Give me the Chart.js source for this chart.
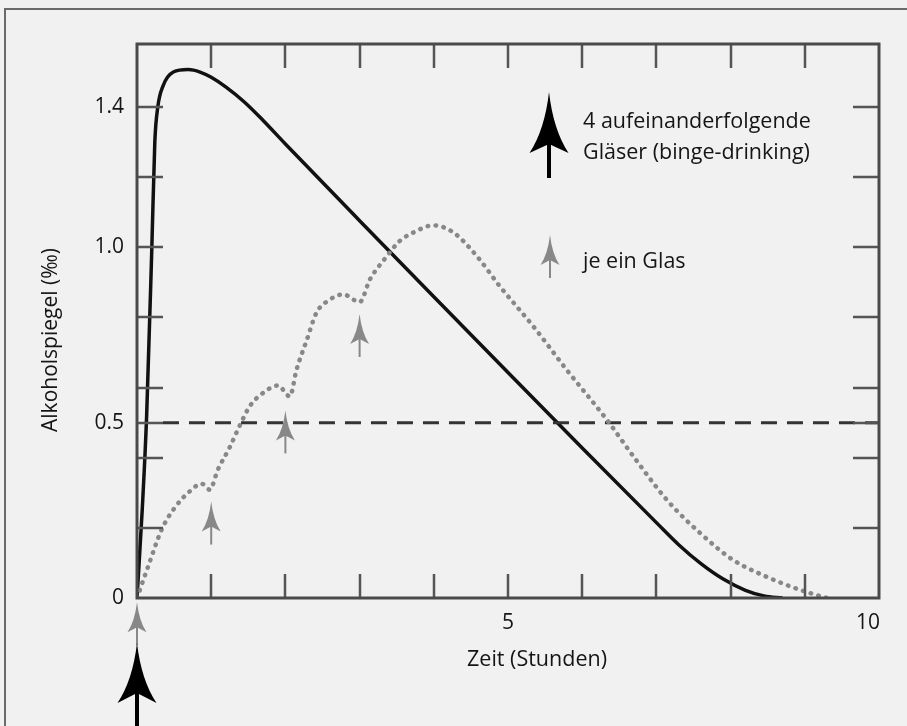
<!DOCTYPE html>
<html>
<head>
<meta charset="utf-8">
<script src="https://cdn.jsdelivr.net/npm/chart.js@4/dist/chart.umd.min.js"></script>
<style>
  html, body { margin: 0; padding: 0; background: #f1f1f1; }
  #wrap { width: 907px; height: 726px; }
</style>
</head>
<body>
<div id="wrap"><canvas id="chart" width="907" height="726"></canvas></div>
<script>
// Zeit in Stunden / Alkoholspiegel in Promille
const bingeTimes = [0, 0.07, 0.13, 0.2, 0.24, 0.28, 0.35, 0.49, 0.69, 0.85, 1.0, 1.2, 1.45, 1.7, 2, 3, 4, 5, 6, 7, 7.3, 7.6, 7.9, 8.2, 8.45, 8.7];
const bingeLevel = [0, 0.25, 0.52, 1.0, 1.3, 1.4, 1.46, 1.5, 1.507, 1.5, 1.485, 1.457, 1.414, 1.362, 1.295, 1.076, 0.859, 0.643, 0.428, 0.215, 0.152, 0.098, 0.054, 0.022, 0.006, 0];

const glassTimes = [0, 0.15, 0.33, 0.5, 0.71, 0.87, 0.98, 1.09, 1.25, 1.39, 1.52, 1.7, 1.9, 2.06, 2.15, 2.29, 2.42, 2.6, 2.78, 3.0, 3.14, 3.35, 3.54, 3.75, 3.99, 4.26, 4.58, 4.89, 5.34, 5.79, 6.33, 6.69, 7.14, 7.59, 8.03, 8.49, 8.94, 9.3];
const glassLevel = [0, 0.09, 0.194, 0.255, 0.304, 0.326, 0.309, 0.366, 0.43, 0.494, 0.547, 0.585, 0.606, 0.575, 0.651, 0.737, 0.814, 0.851, 0.866, 0.844, 0.909, 0.97, 1.018, 1.045, 1.063, 1.043, 0.975, 0.889, 0.775, 0.651, 0.509, 0.404, 0.28, 0.185, 0.109, 0.06, 0.023, 0];

const limitTimes = [0.35, 10];
const limitLevel = [0.5, 0.5];

// je ein Glas: Zeitpunkte und Pfeilspitzen (Promille)
const drinkTimes = [0, 1, 2, 3];
const drinkArrowTips = [-0.012, 0.275, 0.535, 0.81];

const xTickMarks = [1, 2, 3, 4, 5, 6, 7, 8, 9];
const yTickMarks = [0.2, 0.4, 0.5, 0.6, 0.8, 1.0, 1.2, 1.4];
const xLabelValues = [5, 10];
const xTickLabels = ['5', '10'];
const yLabelValues = [0, 0.5, 1.0, 1.4];
const yTickLabels = ['0', '0.5', '1.0', '1.4'];

const xTitle = 'Zeit (Stunden)';
const yTitle = 'Alkoholspiegel (‰)';
const legendBinge = ['4 aufeinanderfolgende', 'Gläser (binge-drinking)'];
const legendGlass = 'je ein Glas';

const FONT = '"Open Sans", "DejaVu Sans", sans-serif';
const TEXT = '#151515';
const GREY = '#888888';

const toPoints = (xs, ys) => xs.map((x, i) => ({ x: x, y: ys[i] }));

function arrow(ctx, x, yTip, len, half, notch, yTail, shaft, color) {
  ctx.save();
  ctx.fillStyle = color;
  ctx.strokeStyle = color;
  ctx.lineWidth = shaft;
  ctx.beginPath();
  ctx.moveTo(x, yTip + notch - 1);
  ctx.lineTo(x, yTail);
  ctx.stroke();
  ctx.beginPath();
  ctx.moveTo(x, yTip);
  ctx.quadraticCurveTo(x - half * 0.22, yTip + len * 0.62, x - half, yTip + len);
  ctx.lineTo(x, yTip + notch);
  ctx.lineTo(x + half, yTip + len);
  ctx.quadraticCurveTo(x + half * 0.22, yTip + len * 0.62, x, yTip);
  ctx.closePath();
  ctx.fill();
  ctx.restore();
}

const decor = {
  id: 'decor',
  beforeDraw(chart) {
    const ctx = chart.ctx;
    ctx.save();
    ctx.fillStyle = '#f1f1f1';
    ctx.fillRect(0, 0, chart.width, chart.height);
    ctx.strokeStyle = '#6a6a6a';
    ctx.lineWidth = 2;
    ctx.strokeRect(5, 9, chart.width + 20, chart.height + 20);
    ctx.restore();
  },
  afterDatasetsDraw(chart) {
    const ctx = chart.ctx;
    const a = chart.chartArea;
    const xs = chart.scales.x, ys = chart.scales.y;

    ctx.save();
    // Tick marks pointing inward
    ctx.strokeStyle = '#555';
    ctx.lineWidth = 2.5;
    ctx.beginPath();
    xTickMarks.forEach(v => {
      const px = Math.round(xs.getPixelForValue(v));
      ctx.moveTo(px, a.top); ctx.lineTo(px, a.top + 24);
      ctx.moveTo(px, a.bottom); ctx.lineTo(px, a.bottom - 24);
    });
    yTickMarks.forEach(v => {
      const py = Math.round(ys.getPixelForValue(v));
      ctx.moveTo(a.left, py); ctx.lineTo(a.left + 26, py);
      ctx.moveTo(a.right, py); ctx.lineTo(a.right - 26, py);
    });
    ctx.stroke();

    // Box
    ctx.strokeStyle = '#4a4a4a';
    ctx.lineWidth = 3;
    ctx.strokeRect(a.left, a.top, a.right - a.left, a.bottom - a.top);

    // Tick labels
    ctx.fillStyle = TEXT;
    ctx.font = '21px ' + FONT;
    ctx.textBaseline = 'middle';
    ctx.textAlign = 'right';
    yLabelValues.forEach((v, i) => {
      ctx.fillText(yTickLabels[i], a.left - 13, ys.getPixelForValue(v));
    });
    xLabelValues.forEach((v, i) => {
      const last = i === xLabelValues.length - 1;
      ctx.textAlign = last ? 'right' : 'center';
      ctx.fillText(xTickLabels[i], xs.getPixelForValue(v) + (last ? 1 : 0), a.bottom + 25);
    });

    // Axis titles
    ctx.font = '21.5px ' + FONT;
    ctx.textAlign = 'center';
    ctx.fillText(xTitle, 537, a.bottom + 62);
    ctx.save();
    ctx.translate(51, 340);
    ctx.rotate(-Math.PI / 2);
    ctx.font = '21px ' + FONT;
    ctx.fillText(yTitle, 0, 0);
    ctx.restore();

    // Drink arrows
    drinkTimes.forEach((t, i) => {
      const tip = ys.getPixelForValue(drinkArrowTips[i]);
      arrow(ctx, xs.getPixelForValue(t), tip, 30, 9.5, 25, tip + 43, 2, GREY);
    });
    // Binge arrow below the axis at t = 0
    arrow(ctx, xs.getPixelForValue(0), 643, 60, 19.5, 50, chart.height + 5, 4, '#000');

    // Legend
    arrow(ctx, 549, 92, 61, 19.5, 52, 178, 4, '#000');
    arrow(ctx, 550, 235, 30, 9.5, 25, 278, 2, GREY);
    ctx.textAlign = 'left';
    ctx.font = '21.5px ' + FONT;
    ctx.fillStyle = TEXT;
    ctx.fillText(legendBinge[0], 583, 122);
    ctx.fillText(legendBinge[1], 583, 153);
    ctx.fillText(legendGlass, 583, 262);
    ctx.restore();
  }
};

new Chart(document.getElementById('chart'), {
  type: 'line',
  data: {
    datasets: [
      {
        label: 'je ein Glas',
        data: toPoints(glassTimes, glassLevel),
        borderColor: GREY,
        borderWidth: 4.5,
        borderDash: [0.5, 7.5],
        borderCapStyle: 'round',
        cubicInterpolationMode: 'monotone',
        pointRadius: 0,
        fill: false
      },
      {
        label: '0,5 Promille',
        data: toPoints(limitTimes, limitLevel),
        borderColor: '#333',
        borderWidth: 3,
        borderDash: [16, 10],
        pointRadius: 0,
        fill: false
      },
      {
        label: 'binge-drinking',
        data: toPoints(bingeTimes, bingeLevel),
        borderColor: '#111',
        borderWidth: 3.5,
        cubicInterpolationMode: 'monotone',
        pointRadius: 0,
        fill: false
      }
    ]
  },
  options: {
    responsive: false,
    animation: false,
    layout: { padding: { left: 137, top: 44, right: 28, bottom: 128 } },
    plugins: { legend: { display: false }, tooltip: { enabled: false } },
    scales: {
      x: { type: 'linear', min: 0, max: 10, display: false },
      y: { type: 'linear', min: 0, max: 1.58, display: false }
    }
  },
  plugins: [decor]
});
</script>
</body>
</html>
